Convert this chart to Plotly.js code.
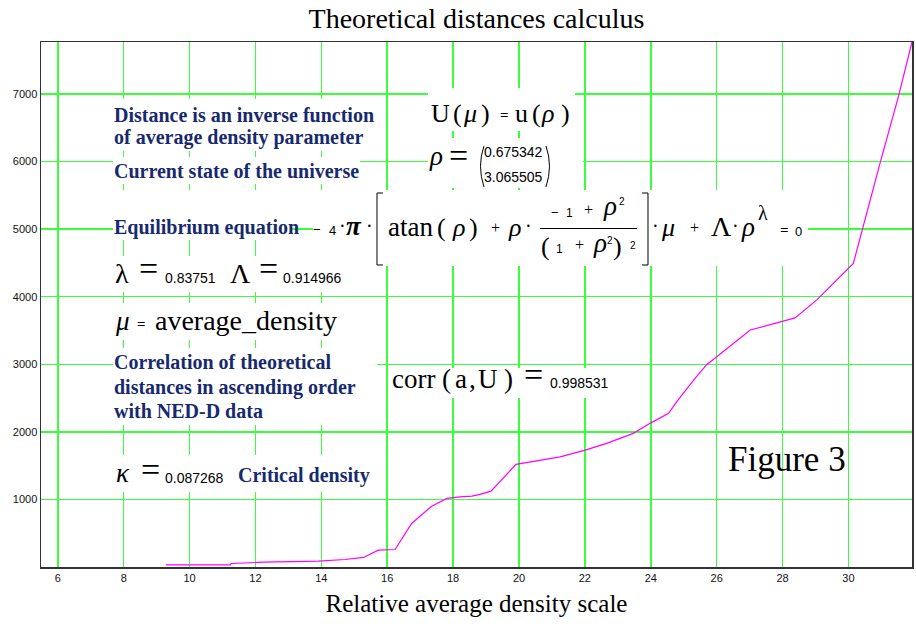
<!DOCTYPE html>
<html>
<head>
<meta charset="utf-8">
<script src="https://cdn.plot.ly/plotly-3.0.1.min.js"></script>
<style>
  html, body { margin: 0; padding: 0; background: #ffffff; }
  #chart { width: 916px; height: 629px; }
</style>
</head>
<body>
<div id="chart"></div>
<script>
// Relative average density (x) and theoretical distance (y)
const density = [9.28, 11.24, 11.26, 12.24, 13.91, 14.72, 15.28, 15.73, 16.24, 16.74,
                 17.35, 17.81, 18.21, 18.57, 18.82, 19.15, 19.91, 20.44, 21.25, 22.01,
                 22.66, 23.47, 23.98, 24.54, 24.79, 25.30, 25.69, 27.02, 28.38, 29.04,
                 30.15, 30.96, 31.52, 31.93];
const distance = [30, 30, 52, 71, 86, 111, 141, 249, 259, 644,
                  900, 1015, 1039, 1049, 1074, 1123, 1518, 1563, 1631, 1730,
                  1830, 1978, 2126, 2274, 2446, 2767, 2990, 3507, 3686, 3953,
                  4494, 5978, 6965, 7770];

const xTicks = [6, 8, 10, 12, 14, 16, 18, 20, 22, 24, 26, 28, 30];
const yTicks = [1000, 2000, 3000, 4000, 5000, 6000, 7000];

const chartTitle = 'Theoretical distances calculus';
const xTitle = 'Relative average density scale';

// plot-area geometry in pixels, used to place the worksheet text
const L = 41, T = 42, W = 871, H = 525;
const px = x => (x - L) / W;
const py = y => (T + H - y) / H;

const SERIF = 'Liberation Serif, Times New Roman, serif';
const SANS = 'Liberation Sans, Arial, sans-serif';
const NAVY = '#172a6e';

const annotations = [];
// text piece: left edge x, baseline y, font size
function put(text, x, base, size, opt) {
  opt = opt || {};
  const fam = opt.sans ? SANS : SERIF;
  const desc = opt.sans ? 0.212 : 0.216;
  annotations.push({
    text: text, xref: 'paper', yref: 'paper',
    x: px(x), y: py(base + desc * size),
    xanchor: 'left', yanchor: 'bottom',
    showarrow: false, borderpad: 0, borderwidth: 0,
    font: { family: fam, size: size, color: opt.color || '#000000' }
  });
}
function note(text, x, base) { put('<b>' + text + '</b>', x, base, 20, { color: NAVY }); }

const shapes = [];
// white text regions that cover the grid
function region(x0, y0, x1, y1) {
  shapes.push({ type: 'rect', xref: 'paper', yref: 'paper', layer: 'above',
    x0: px(x0), x1: px(x1), y0: py(y1), y1: py(y0),
    line: { width: 0 }, fillcolor: '#ffffff' });
}
function stroke(d) {
  shapes.push({ type: 'path', xref: 'paper', yref: 'paper', layer: 'above',
    path: d, line: { color: '#000000', width: 1 } });
}
const P = (x, y) => px(x).toFixed(5) + ',' + py(y).toFixed(5);

region(113, 99, 380, 151);
region(113, 157, 360, 184);
region(428, 88, 575, 131);
region(428, 138, 583, 188);
region(113, 190, 292, 240);
region(313, 190, 808, 266);
region(113, 256, 340, 292);
region(113, 303, 340, 340);
region(113, 348, 377, 425);
region(390, 368, 605, 398);
region(113, 455, 372, 492);

// explanatory notes
note('Distance is an inverse function', 114, 122);
note('of average density parameter', 114, 145);
note('Current state of the universe', 114, 178);
note('Equilibrium equation', 114, 235);
note('Correlation of theoretical', 114, 369);
note('distances in ascending order', 114, 395);
note('with NED-D data', 114, 418);
note('Critical density', 238, 483);

// U(μ) = u(ρ)
put('U', 431, 122, 26);
put('(', 453, 122, 26);
put('<i>μ</i>', 463, 122, 26);
put(')', 481, 122, 26);
put('<b>=</b>', 500, 120, 15);
put('u', 515, 122, 26);
put('(', 532, 122, 26);
put('<i>ρ</i>', 541, 122, 26);
put(')', 561, 122, 26);

// ρ = (0.675342, 3.065505)
put('<i>ρ</i>', 429, 165, 27);
put('=', 449, 167, 34);
put('0.675342', 484, 157, 14, { sans: true });
put('3.065505', 484, 182, 14, { sans: true });
stroke('M' + P(484, 146) + ' Q' + P(477, 166) + ' ' + P(484, 187));
stroke('M' + P(546, 146) + ' Q' + P(553, 166) + ' ' + P(546, 187));

// −4·π·[ atan(ρ) + ρ·(−1 + ρ²)/(1 + ρ²)² ]·μ + Λ·ρ^λ = 0
put('−', 313, 234, 13, { sans: true });
put('4', 329, 235, 13, { sans: true });
put('·', 339, 233, 20);
put('<b><i>π</i></b>', 346, 235, 27);
put('·', 366, 233, 20);
stroke('M' + P(383, 193) + ' L' + P(377, 193) + ' L' + P(377, 265) + ' L' + P(383, 265));
put('atan', 388, 236, 27);
put('(', 437, 236, 26);
put('<i>ρ</i>', 452, 236, 26);
put(')', 469, 236, 26);
put('+', 491, 233, 16);
put('<i>ρ</i>', 508, 236, 26);
put('·', 525, 233, 20);
put('−', 551, 217, 13, { sans: true });
put('1', 566, 217, 12, { sans: true });
put('+', 584, 215, 16);
put('<i>ρ</i>', 603, 215, 27);
put('2', 619, 205, 10, { sans: true });
stroke('M' + P(540, 228.5) + ' L' + P(637, 228.5));
put('(', 541, 255, 26);
put('1', 556, 253, 12, { sans: true });
put('+', 575, 250, 16);
put('<i>ρ</i>', 593, 252, 27);
put('2', 607, 244, 10, { sans: true });
put(')', 613, 255, 26);
put('2', 630, 249, 10, { sans: true });
stroke('M' + P(642, 193) + ' L' + P(648, 193) + ' L' + P(648, 265) + ' L' + P(642, 265));
put('·', 652, 233, 20);
put('<i>μ</i>', 661, 236, 26);
put('+', 690, 233, 16);
put('Λ', 711, 236, 28);
put('·', 732, 233, 20);
put('<i>ρ</i>', 741, 236, 27);
put('λ', 758, 220, 20);
put('<b>=</b>', 780, 235, 15);
put('0', 795, 236, 13, { sans: true });

// λ and Λ
put('λ', 115, 283, 28);
put('=', 139, 280, 34);
put('0.83751', 165, 283, 14, { sans: true });
put('Λ', 230, 283, 28);
put('=', 259, 280, 34);
put('0.914966', 283, 283, 14, { sans: true });

// μ definition
put('<i>μ</i>', 115, 330, 27);
put('<b>=</b>', 137, 329, 15);
put('average_density', 155, 330, 28);

// correlation
put('corr', 392, 388, 27);
put('(', 442, 388, 27);
put('a', 455, 388, 27);
put(',', 469, 388, 27);
put('U', 478, 388, 27);
put(')', 504, 388, 27);
put('=', 524, 386, 34);
put('0.998531', 550, 388, 14, { sans: true });

// critical density
put('<i>κ</i>', 116, 482, 27);
put('=', 141, 481, 34);
put('0.087268', 165, 483, 14, { sans: true });

put('Figure 3', 728, 471, 35);

const trace = {
  x: density, y: distance, type: 'scatter', mode: 'lines',
  line: { color: '#ff00ff', width: 1.2 }, hoverinfo: 'skip'
};

const gridColor = '#3cff3c';
const layout = {
  width: 916, height: 629,
  margin: { l: L, r: 916 - L - W, t: T, b: 629 - T - H },
  paper_bgcolor: '#ffffff', plot_bgcolor: '#ffffff',
  showlegend: false,
  title: { text: chartTitle, font: { family: SERIF, size: 28, color: '#000000' },
           x: 0.5, xref: 'paper', y: 0.986, yref: 'container', yanchor: 'top' },
  xaxis: {
    range: [5.49, 31.93], tickvals: xTicks, ticks: '',
    showgrid: true, gridcolor: gridColor, gridwidth: 1.5, zeroline: false,
    showline: true, linecolor: '#333333', linewidth: 1.5, mirror: true,
    tickfont: { family: SANS, size: 11, color: '#111111' },
    title: { text: xTitle, font: { family: SERIF, size: 25, color: '#000000' }, standoff: 12 },
    automargin: false
  },
  yaxis: {
    range: [0, 7770], tickvals: yTicks, ticks: '',
    showgrid: true, gridcolor: gridColor, gridwidth: 1.5, zeroline: false,
    showline: true, linecolor: '#333333', linewidth: 1.5, mirror: true,
    tickfont: { family: SANS, size: 11, color: '#111111' },
    automargin: false
  },
  shapes: shapes,
  annotations: annotations
};

Plotly.newPlot('chart', [trace], layout, { staticPlot: true, displayModeBar: false });
</script>
</body>
</html>
